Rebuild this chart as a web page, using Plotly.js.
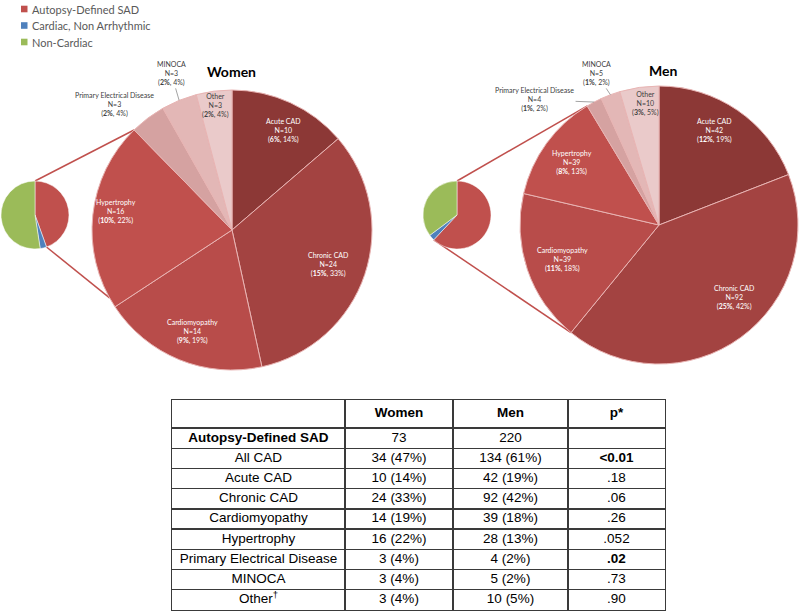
<!DOCTYPE html>
<html><head><meta charset="utf-8">
<script src="https://cdn.plot.ly/plotly-3.0.1.min.js"></script>
<style>html,body{margin:0;padding:0;background:#fff}#chart{width:800px;height:614px}</style>
</head><body><div id="chart"></div>
<script>
// ---------- DATA ----------
const groups = ['Autopsy-Defined SAD', 'Cardiac, Non Arrhythmic', 'Non-Cardiac'];
const womenGroupN = [73, 5, 86];
const menGroupN = [220, 10, 125];

const causes = ['Acute CAD', 'Chronic CAD', 'Cardiomyopathy', 'Hypertrophy', 'Primary Electrical Disease', 'MINOCA', 'Other'];
const womenN = [10, 24, 14, 16, 3, 3, 3];
const menN = [42, 92, 39, 28, 4, 5, 10];
const womenLabelN = [10, 24, 14, 16, 3, 3, 3];
const menLabelN = [42, 92, 39, 39, 4, 5, 10];
const womenPctAll = [6, 15, 9, 10, 2, 2, 2];
const womenPctSAD = [14, 33, 19, 22, 4, 4, 4];
const menPctAll = [12, 25, 11, 8, 1, 1, 3];
const menPctSAD = [19, 42, 18, 13, 2, 2, 5];

const tableHeader = ['', 'Women', 'Men', 'p*'];
const tableRows = ['Autopsy-Defined SAD', 'All CAD', 'Acute CAD', 'Chronic CAD', 'Cardiomyopathy', 'Hypertrophy', 'Primary Electrical Disease', 'MINOCA', 'Other<sup>†</sup>'];
const tableWomen = ['73', '34 (47%)', '10 (14%)', '24 (33%)', '14 (19%)', '16 (22%)', '3 (4%)', '3 (4%)', '3 (4%)'];
const tableMen = ['220', '134 (61%)', '42 (19%)', '92 (42%)', '39 (18%)', '28 (13%)', '4 (2%)', '5 (2%)', '10 (5%)'];
const tableP = ['', '&lt;0.01', '.18', '.06', '.26', '.052', '.02', '.73', '.90'];
const boldP = [false, true, false, false, false, false, true, false, false];

// ---------- STYLE / LAYOUT ----------
const W = 800, H = 614;
const P = x => x / W, Q = y => 1 - y / H;
const groupColors = ['#C0504D', '#4F81BD', '#9BBB59'];
const causeColors = ['#8C3836', '#A34341', '#B84C4A', '#C0504D', '#D5A2A1', '#E3B7B6', '#EACACA'];
const labelColors = ['#fff', '#fff', '#fff', '#fff', '#404040', '#404040', '#404040'];
const labFont = 'Lato, "Open Sans", sans-serif';
const tabFont = '"Liberation Sans", Arial, sans-serif';

const panels = [
  { title: 'Women', n: womenN, ln: womenLabelN, pa: womenPctAll, ps: womenPctSAD, gn: womenGroupN,
    big: { cx: 232, cy: 230, r: 140 }, small: { cx: 35, cy: 215, r: 34 }, titleY: 71, titleX: 232,
    da: [3, 1.5, -1, 3, -6, 1, 0], rf: [0.8, 0.73, 0.78, 0.84, 1.23, 1.2, 0.9], out: [0, 0, 0, 0, 1, 1, 0],
    connUpper: 315.6, connLower: 241 },
  { title: 'Men', n: menN, ln: menLabelN, pa: menPctAll, ps: menPctSAD, gn: menGroupN,
    big: { cx: 659, cy: 225, r: 139 }, small: { cx: 457, cy: 215, r: 34 }, titleY: 70, titleX: 663,
    da: [-4, -10, -1, 0, -17, -2, 2], rf: [0.79, 0.75, 0.74, 0.77, 1.27, 1.18, 0.88], out: [0, 0, 0, 0, 1, 1, 0],
    connUpper: 329, connLower: 219.3 }
];

function pt(c, r, deg) {
  const a = deg * Math.PI / 180;
  return [c.cx + r * Math.sin(a), c.cy - r * Math.cos(a)];
}
function dom(c) {
  return { x: [P(c.cx - c.r), P(c.cx + c.r)], y: [Q(c.cy + c.r), Q(c.cy - c.r)] };
}

const traces = [];
const annotations = [];
const shapes = [];

panels.forEach((pn, k) => {
  traces.push({
    type: 'pie', labels: groups, values: pn.gn, sort: false, direction: 'clockwise', rotation: 0,
    domain: dom(pn.small), textinfo: 'none', hoverinfo: 'label+value',
    marker: { colors: groupColors, line: { color: '#ffffff', width: 0.5 } },
    showlegend: false
  });
  traces.push({
    type: 'pie', labels: causes, values: pn.n, sort: false, direction: 'clockwise', rotation: 0,
    domain: dom(pn.big), textinfo: 'none', hoverinfo: 'label+value',
    marker: { colors: causeColors, line: { color: '#E8B4B3', width: 1 } },
    showlegend: false
  });
  const tot = pn.n.reduce((a, b) => a + b, 0);
  let cum = 0;
  pn.n.forEach((v, i) => {
    const mid = (cum + v / 2) / tot * 360;
    cum += v;
    const ang = mid + pn.da[i];
    const [lx, ly] = pt(pn.big, pn.big.r * pn.rf[i], ang);
    const txt = `${causes[i]}<br>N=${pn.ln[i]}<br>(<b>${pn.pa[i]}%</b>, ${pn.ps[i]}%)`;
    const base = { text: txt, showarrow: false, xanchor: 'center', yanchor: 'middle',
      font: { family: labFont, size: 7, color: labelColors[i] }, align: 'center' };
    if (pn.out[i]) {
      const [tx, ty] = pt(pn.big, pn.big.r * 1.0, mid);
      annotations.push(Object.assign(base, {
        xref: 'paper', yref: 'paper', x: P(tx), y: Q(ty), showarrow: true, arrowhead: 0,
        arrowwidth: 0.8, arrowcolor: '#8c8c8c', standoff: 0, ax: lx - tx, ay: ly - ty
      }));
    } else {
      annotations.push(Object.assign(base, { xref: 'paper', yref: 'paper', x: P(lx), y: Q(ly) }));
    }
  });
  annotations.push({ text: '<b>' + pn.title + '</b>', xref: 'paper', yref: 'paper', x: P(pn.titleX), y: Q(pn.titleY),
    xanchor: 'center', yanchor: 'middle', showarrow: false, font: { family: labFont, size: 14, color: '#000' } });
  const gTot = pn.gn.reduce((a, b) => a + b, 0);
  const sadEnd = pn.gn[0] / gTot * 360;
  const s1 = pt(pn.small, pn.small.r, 0), b1 = pt(pn.big, pn.big.r, pn.connUpper);
  const s2 = pt(pn.small, pn.small.r, sadEnd), b2 = pt(pn.big, pn.big.r, pn.connLower);
  [[s1, b1], [s2, b2]].forEach(([a, b]) => {
    shapes.push({ type: 'line', xref: 'paper', yref: 'paper', x0: P(a[0]), y0: Q(a[1]), x1: P(b[0]), y1: Q(b[1]),
      line: { color: '#C0504D', width: 1.5 }, layer: 'below' });
  });
});

// legend (top-left)
groups.forEach((g, i) => {
  const y = 9 + i * 16.5;
  shapes.push({ type: 'rect', xref: 'paper', yref: 'paper', x0: P(21), x1: P(27.5), y0: Q(y + 3.3), y1: Q(y - 3.3),
    fillcolor: groupColors[i], line: { width: 0 } });
  annotations.push({ text: g, xref: 'paper', yref: 'paper', x: P(30), y: Q(y), xanchor: 'left', yanchor: 'middle',
    showarrow: false, font: { family: labFont, size: 11, color: '#595959' } });
});

// table drawn on a hidden cartesian grid: columns/rows as axis gridlines, cells as text
const colBounds = [0, 173, 281, 396, 493];
const rowBounds = [0, 28];
tableRows.forEach(() => rowBounds.push(rowBounds[rowBounds.length - 1] + 20.2));
const colCenters = colBounds.slice(0, -1).map((b, i) => (b + colBounds[i + 1]) / 2);
const rowCenters = rowBounds.slice(0, -1).map((b, i) => (b + rowBounds[i + 1]) / 2);
const bold = s => '<b>' + s + '</b>';
const columns = [
  [tableHeader[0], ...tableRows.map((r, i) => i === 0 ? bold(r) : r)],
  [bold(tableHeader[1]), ...tableWomen],
  [bold(tableHeader[2]), ...tableMen],
  [bold(tableHeader[3]), ...tableP.map((p, i) => p && boldP[i] ? bold(p) : p)]
];
const tx = [], ty = [], tt = [];
columns.forEach((col, c) => col.forEach((v, r) => {
  if (!v) return;
  tx.push(colCenters[c]); ty.push(rowCenters[r]); tt.push(v);
}));
traces.push({
  type: 'scatter', mode: 'text', x: tx, y: ty, text: tt, xaxis: 'x', yaxis: 'y',
  textposition: 'middle center', textfont: { family: tabFont, size: 13.5, color: '#000' },
  hoverinfo: 'none', showlegend: false, cliponaxis: false
});

const gridAxis = {
  showgrid: true, gridcolor: '#3a3a3a', gridwidth: 1.3, zeroline: false, showticklabels: false, ticks: '',
  showline: true, mirror: true, linecolor: '#3a3a3a', linewidth: 1.3, fixedrange: true
};

const layout = {
  width: W, height: H, margin: { l: 0, r: 0, t: 0, b: 0, autoexpand: false },
  paper_bgcolor: '#fff', plot_bgcolor: '#fff',
  showlegend: false,
  xaxis: Object.assign({ domain: [P(172), P(665)], range: [0, colBounds[colBounds.length - 1]], tickvals: colBounds }, gridAxis),
  yaxis: Object.assign({ domain: [Q(610), Q(400)], range: [rowBounds[rowBounds.length - 1], 0], tickvals: rowBounds }, gridAxis),
  annotations: annotations, shapes: shapes
};

Plotly.newPlot('chart', traces, layout, { displayModeBar: false, staticPlot: true });
</script></body></html>
